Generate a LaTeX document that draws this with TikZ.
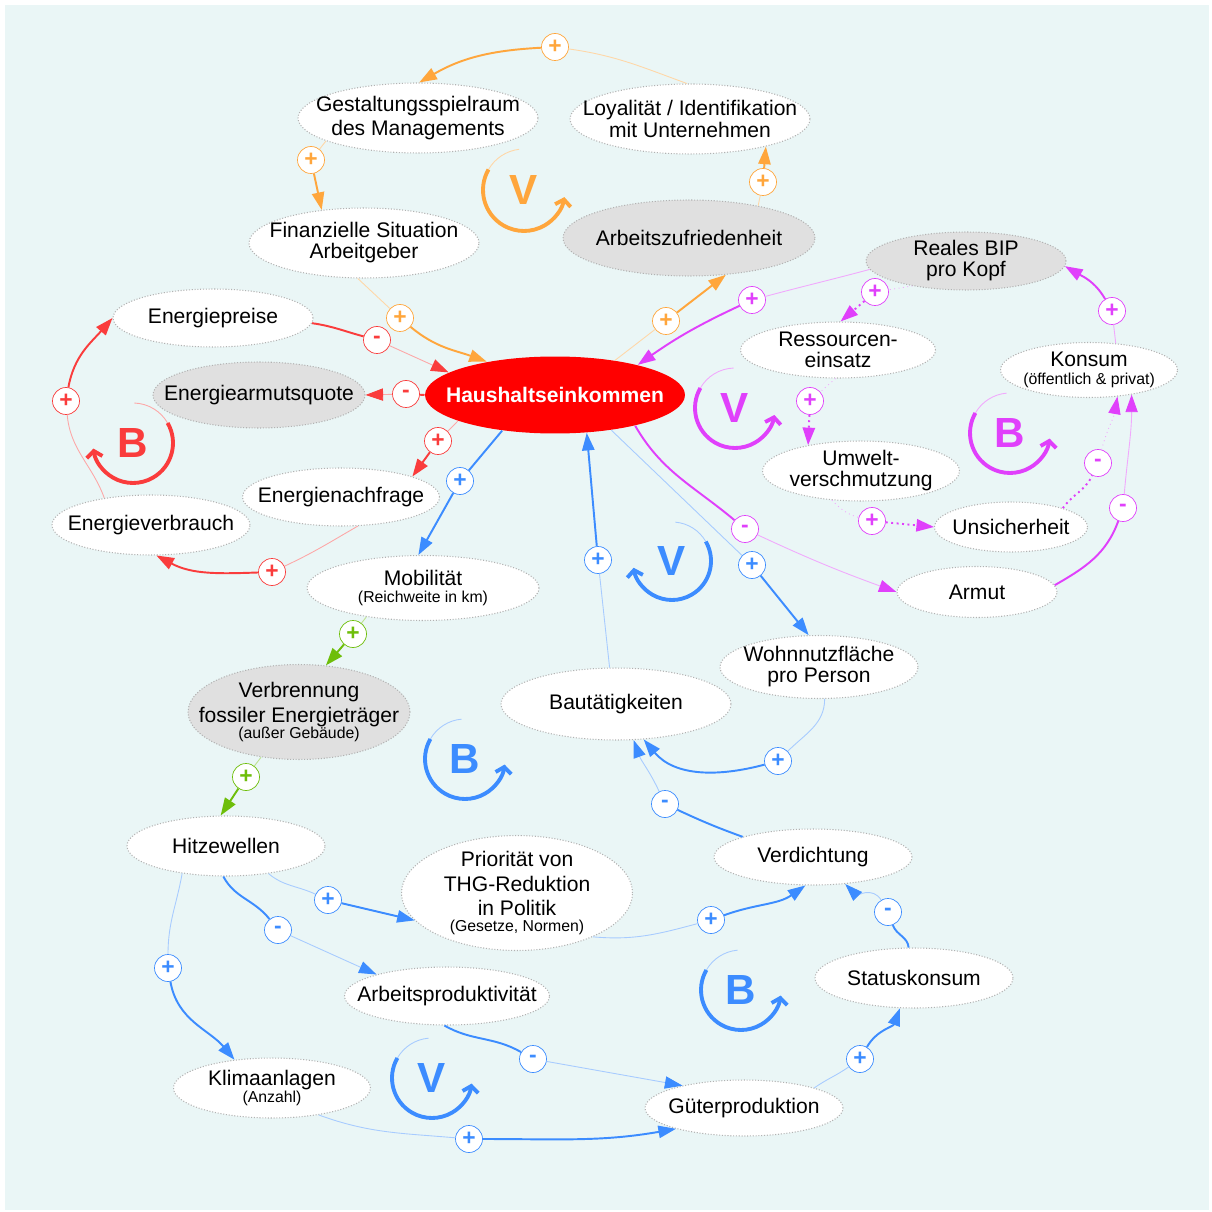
\documentclass[tikz,border=0pt]{standalone}
\usepackage{fontspec}
\setmainfont{Liberation Sans}
\usepackage{tikz}
\usetikzlibrary{arrows.meta, shapes.geometric}

\definecolor{bgc}{RGB}{234,246,246}
\definecolor{cOr}{RGB}{255,166,60}
\definecolor{cRd}{RGB}{250,60,60}
\definecolor{cMg}{RGB}{224,64,251}
\definecolor{cBl}{RGB}{60,140,255}
\definecolor{cGn}{RGB}{110,190,10}
\definecolor{nodegray}{RGB}{224,224,224}

\newcommand{\klein}[1]{{\fontsize{9}{10}\selectfont #1}}

\tikzset{
	var/.style 2 args={ellipse, draw=gray!60, densely dotted, line width=0.6pt, fill=white, inner xsep=-0.6cm, inner ysep=-0.15cm, align=center, minimum width=#1, minimum height=#2, font=\fontsize{12}{14}\selectfont},
	pol/.style={circle, draw=#1, fill=white, text=#1, minimum size=0.54cm, inner sep=0pt, font=\bfseries\fontsize{13}{13}\selectfont},
	weak/.style={draw=#1!45, line width=0.5pt},
	strong/.style={draw=#1, line width=1.1pt},
	arrowtip/.style={-{Triangle[length=10pt, width=7pt, color=#1]}},
	loopletter/.style={text=#1, font=\bfseries\fontsize{24}{24}\selectfont},
	loopline/.style={draw=#1, line width=2.2pt, -{Straight Barb[length=3.5pt, width=9pt]}}
}

\begin{document}
\begin{tikzpicture}[x=0.02cm, y=-0.02cm]
		% фон
		\useasboundingbox (0,0) rectangle (1211,1212);
		\fill [bgc] (5,5) rectangle (1209,1210);
		% узлы
		\node [var={4.8cm}{1.4cm}] (gest) at (418,118) {Gestaltungsspielraum\\des Managements};
		\node [var={4.8cm}{1.4cm}] (loy) at (690,119) {Loyalität / Identifikation\\[-2pt]mit Unternehmen};
		\node [var={4.6cm}{1.4cm}] (fin) at (364,243) {Finanzielle Situation\\[-2pt]Arbeitgeber};
		\node [var={5.04cm}{1.52cm}, fill=nodegray] (zufr) at (689,238) {Arbeitszufriedenheit};
		\node [var={4cm}{1.16cm}] (epreis) at (213,318) {Energiepreise};
		\node [var={4.24cm}{1.32cm}, fill=nodegray] (earmut) at (259,395) {Energiearmutsquote};
		\node [var={5.2cm}{1.54cm}, draw=none, fill=red, text=white, font=\bfseries\fontsize{12}{14}\selectfont] (heink) at (555,395) {Haushaltseinkommen};
		\node [var={3.94cm}{1.16cm}] (enach) at (341,497) {Energienachfrage};
		\node [var={3.96cm}{1.2cm}] (everb) at (151,525) {Energieverbrauch};
		\node [var={4.64cm}{1.3cm}] (mobil) at (423,588) {Mobilität\\[-4pt]\klein{(Reichweite in km)}};
		\node [var={4.44cm}{1.9cm}, fill=nodegray] (verbr) at (299,712) {Verbrennung\\fossiler Energieträger\\[-5pt]\klein{(außer Gebäude)}};
		\node [var={3.96cm}{1.2cm}] (hitze) at (226,846) {Hitzewellen};
		\node [var={4.62cm}{2.3cm}] (prio) at (517,893) {Priorität von\\THG-Reduktion\\in Politik\\[-5pt]\klein{(Gesetze, Normen)}};
		\node [var={4.1cm}{1.16cm}] (aprod) at (447,996) {Arbeitsproduktivität};
		\node [var={3.94cm}{1.2cm}] (klima) at (272,1088) {Klimaanlagen\\[-4pt]\klein{(Anzahl)}};
		\node [var={3.96cm}{1.12cm}] (gueter) at (744,1108) {Güterproduktion};
		\node [var={3.96cm}{1.12cm}] (verd) at (813,857) {Verdichtung};
		\node [var={3.96cm}{1.2cm}] (status) at (914,978) {Statuskonsum};
		\node [var={4.6cm}{1.44cm}] (bau) at (616,704) {Bautätigkeiten};
		\node [var={3.96cm}{1.26cm}] (wohn) at (819,667) {Wohnnutzfläche\\[-2pt]pro Person};
		\node [var={4cm}{1.16cm}, fill=nodegray] (bip) at (966,261) {Reales BIP\\[-2pt]pro Kopf};
		\node [var={3.9cm}{1.12cm}] (ress) at (838,350) {Ressourcen-\\[-2pt]einsatz};
		\node [var={3.54cm}{1.1cm}] (konsum) at (1089,370) {Konsum\\[-4pt]\klein{(öffentlich \& privat)}};
		\node [var={3.94cm}{1.2cm}] (umwelt) at (861,471) {Umwelt-\\[-2pt]verschmutzung};
		\node [var={3.06cm}{1cm}] (unsich) at (1011,527) {Unsicherheit};
		\node [var={3.2cm}{1.02cm}] (armut) at (977,592) {Armut};
		% знаки связей
		\node [pol=cOr] (oA) at (555,47) {+};
		\node [pol=cOr] (oB) at (311,160) {+};
		\node [pol=cOr] (oC) at (400,318) {+};
		\node [pol=cOr] (oD) at (666,321) {+};
		\node [pol=cOr] (oE) at (763,182) {+};
		\node [pol=cRd] (rA) at (377,340) {-};
		\node [pol=cRd] (rB) at (406,394) {-};
		\node [pol=cRd] (rC) at (438,441) {+};
		\node [pol=cRd] (rD) at (272,572) {+};
		\node [pol=cRd] (rE) at (66,401) {+};
		\node [pol=cBl] (bA) at (460,481) {+};
		\node [pol=cBl] (bB) at (598,560) {+};
		\node [pol=cBl] (bC) at (752,565) {+};
		\node [pol=cBl] (bD) at (778,761) {+};
		\node [pol=cBl] (bE) at (665,804) {-};
		\node [pol=cBl] (bF) at (328,900) {+};
		\node [pol=cBl] (bG) at (278,930) {-};
		\node [pol=cBl] (bH) at (168,968) {+};
		\node [pol=cBl] (bI) at (711,920) {+};
		\node [pol=cBl] (bJ) at (533,1059) {-};
		\node [pol=cBl] (bK) at (469,1139) {+};
		\node [pol=cBl] (bL) at (860,1059) {+};
		\node [pol=cBl] (bM) at (888,912) {-};
		\node [pol=cMg] (mA) at (752,300) {+};
		\node [pol=cMg] (mB) at (875,292) {+};
		\node [pol=cMg] (mC) at (810,401) {+};
		\node [pol=cMg] (mD) at (872,521) {+};
		\node [pol=cMg] (mE) at (1098,463) {-};
		\node [pol=cMg] (mF) at (745,529) {-};
		\node [pol=cMg] (mG) at (1123,508) {-};
		\node [pol=cMg] (mH) at (1112,311) {+};
		\node [pol=cGn] (gA) at (353,634) {+};
		\node [pol=cGn] (gB) at (246,777) {+};
		% связи: оранжевая петля
		\draw [weak=cOr] (loy.95) to[out=160, in=-8] (oA);
		\draw [strong=cOr, arrowtip=cOr] (oA) to[out=183, in=30] (gest.88);
		\draw [weak=cOr] (gest.194) -- (oB);
		\draw [strong=cOr, arrowtip=cOr] (oB) -- (fin.142);
		\draw [weak=cOr] (fin.-100) -- (oC);
		\draw [strong=cOr, arrowtip=cOr] (oC) to[out=-40, in=160] (heink.154);
		\draw [weak=cOr] (heink.30) -- (oD);
		\draw [strong=cOr, arrowtip=cOr] (oD) -- (zufr.-45);
		\draw [weak=cOr] (zufr.25) -- (oE);
		\draw [strong=cOr, arrowtip=cOr] (oE) -- (loy.-20);
		% связи: красная петля
		\draw [strong=cRd] (epreis.-3) to[out=-8, in=165] (rA);
		\draw [weak=cRd, arrowtip=cRd] (rA) -- (heink.168);
		\draw [strong=cRd] (heink.west) -- (rB);
		\draw [weak=cRd, arrowtip=cRd] (rB) -- (earmut.east);
		\draw [weak=cRd] (heink.195) -- (rC);
		\draw [strong=cRd, arrowtip=cRd] (rC) -- (enach.16);
		\draw [weak=cRd] (enach.-60) to[out=-150, in=25] (rD);
		\draw [strong=cRd, arrowtip=cRd] (rD) to[out=182, in=-28] (everb.-80);
		\draw [weak=cRd] (everb.150) to[out=110, in=-85] (rE);
		\draw [strong=cRd, arrowtip=cRd] (rE) to[out=80, in=-131] (epreis.west);
		% связи: синие петли
		\draw [strong=cBl] (heink.214) -- (bA);
		\draw [strong=cBl, arrowtip=cBl] (bA) -- (mobil.98);
		\draw [weak=cBl] (bau.100) -- (bB);
		\draw [strong=cBl, arrowtip=cBl] (bB) -- (heink.-50);
		\draw [weak=cBl] (heink.-32) -- (bC);
		\draw [strong=cBl, arrowtip=cBl] (bC) -- (wohn.108);
		\draw [weak=cBl] (wohn.-80) to[out=-90, in=45] (bD);
		\draw [strong=cBl, arrowtip=cBl] (bD) to[out=195, in=-50] (bau.-52);
		\draw [strong=cBl] (verd.164) to[out=160, in=-25] (bE);
		\draw [weak=cBl, arrowtip=cBl] (bE) to[out=115, in=-70] (bau.-64);
		\draw [weak=cBl] (hitze.-33) to[out=-40, in=155] (bF);
		\draw [strong=cBl, arrowtip=cBl] (bF) -- (prio.195);
		\draw [strong=cBl] (hitze.-95) to[out=-62, in=128] (bG);
		\draw [weak=cBl, arrowtip=cBl] (bG) -- (aprod.163);
		\draw [weak=cBl] (hitze.-148) to[out=-100, in=90] (bH);
		\draw [strong=cBl, arrowtip=cBl] (bH) to[out=-80, in=130] (klima.143);
		\draw [weak=cBl] (prio.-30) to[out=-5, in=195] (bI);
		\draw [strong=cBl, arrowtip=cBl] (bI) to[out=20, in=-145] (verd.-105);
		\draw [strong=cBl] (aprod.-95) to[out=-30, in=150] (bJ);
		\draw [weak=cBl, arrowtip=cBl] (bJ) -- (gueter.160);
		\draw [weak=cBl] (klima.-30) to[out=-20, in=175] (bK);
		\draw [strong=cBl, arrowtip=cBl] (bK) to[out=0, in=190] (gueter.197);
		\draw [weak=cBl] (gueter.16) to[out=35, in=-145] (bL);
		\draw [strong=cBl, arrowtip=cBl] (bL) to[out=60, in=-110] (status.-115);
		\draw [strong=cBl] (status.100) to[out=95, in=-70] (bM);
		\draw [weak=cBl, arrowtip=cBl] (bM) to[out=120, in=-45] (verd.-40);
		% связи: фиолетовые петли
		\draw [weak=cMg] (bip.185) to[out=195, in=15] (mA);
		\draw [strong=cMg, arrowtip=cMg] (mA) to[out=205, in=35] (heink.20);
		\draw [weak=cMg, dotted] (bip.-155) -- (mB);
		\draw [strong=cMg, dotted, arrowtip=cMg] (mB) -- (ress.85);
		\draw [weak=cMg, dotted] (ress.-95) -- (mC);
		\draw [strong=cMg, dotted, arrowtip=cMg] (mC) -- (umwelt.154);
		\draw [weak=cMg, dotted] (umwelt.-135) to[out=-45, in=165] (mD);
		\draw [strong=cMg, dotted, arrowtip=cMg] (mD) -- (unsich.west);
		\draw [strong=cMg, dotted] (unsich.20) to[out=55, in=-115] (mE);
		\draw [weak=cMg, dotted, arrowtip=cMg] (mE) to[out=75, in=-100] (konsum.-43);
		\draw [strong=cMg] (heink.-21) to[out=-60, in=140] (mF);
		\draw [weak=cMg, arrowtip=cMg] (mF) to[out=-25, in=160] (armut.west);
		\draw [strong=cMg] (armut.5) to[out=30, in=-110] (mG);
		\draw [weak=cMg, arrowtip=cMg] (mG) to[out=85, in=-90] (konsum.-30);
		\draw [weak=cMg] (konsum.45) -- (mH);
		\draw [strong=cMg, arrowtip=cMg] (mH) to[out=120, in=-30] (bip.-3);
		% связи: зелёные
		\draw [weak=cGn] (mobil.-153) -- (gA);
		\draw [strong=cGn, arrowtip=cGn] (gA) -- (verbr.60);
		\draw [weak=cGn] (verbr.-130) -- (gB);
		\draw [strong=cGn, arrowtip=cGn] (gB) -- (hitze.100);
		% обозначения петель
		\node [loopletter=cOr] (lpOrV) at (524,190) {V};
		\draw [weak=cOr] (lpOrV.center) ++(97:0.82cm) arc[start angle=97, end angle=150, radius=0.82cm];
		\draw [loopline=cOr] (lpOrV.center) ++(150:0.82cm) arc[start angle=150, end angle=350, radius=0.82cm];
		\node [loopletter=cRd] (lpRdB) at (133,443) {B};
		\draw [weak=cRd] (lpRdB.center) ++(88:0.8cm) arc[start angle=88, end angle=30, radius=0.8cm];
		\draw [loopline=cRd] (lpRdB.center) ++(30:0.8cm) arc[start angle=30, end angle=-172, radius=0.8cm];
		\node [loopletter=cMg] (lpMgV) at (735,408) {V};
		\draw [weak=cMg] (lpMgV.center) ++(92:0.8cm) arc[start angle=92, end angle=150, radius=0.8cm];
		\draw [loopline=cMg] (lpMgV.center) ++(150:0.8cm) arc[start angle=150, end angle=350, radius=0.8cm];
		\node [loopletter=cMg] (lpMgB) at (1010,433) {B};
		\draw [weak=cMg] (lpMgB.center) ++(95:0.8cm) arc[start angle=95, end angle=150, radius=0.8cm];
		\draw [loopline=cMg] (lpMgB.center) ++(150:0.8cm) arc[start angle=150, end angle=352, radius=0.8cm];
		\node [loopletter=cBl] (lpBlVa) at (672,561) {V};
		\draw [weak=cBl] (lpBlVa.center) ++(85:0.78cm) arc[start angle=85, end angle=30, radius=0.78cm];
		\draw [loopline=cBl] (lpBlVa.center) ++(30:0.78cm) arc[start angle=30, end angle=-170, radius=0.78cm];
		\node [loopletter=cBl] (lpBlBa) at (465,759) {B};
		\draw [weak=cBl] (lpBlBa.center) ++(95:0.8cm) arc[start angle=95, end angle=150, radius=0.8cm];
		\draw [loopline=cBl] (lpBlBa.center) ++(150:0.8cm) arc[start angle=150, end angle=352, radius=0.8cm];
		\node [loopletter=cBl] (lpBlBb) at (741,990) {B};
		\draw [weak=cBl] (lpBlBb.center) ++(95:0.8cm) arc[start angle=95, end angle=150, radius=0.8cm];
		\draw [loopline=cBl] (lpBlBb.center) ++(150:0.8cm) arc[start angle=150, end angle=352, radius=0.8cm];
		\node [loopletter=cBl] (lpBlVb) at (432,1078) {V};
		\draw [weak=cBl] (lpBlVb.center) ++(95:0.8cm) arc[start angle=95, end angle=150, radius=0.8cm];
		\draw [loopline=cBl] (lpBlVb.center) ++(150:0.8cm) arc[start angle=150, end angle=352, radius=0.8cm];
\end{tikzpicture}
\end{document}
